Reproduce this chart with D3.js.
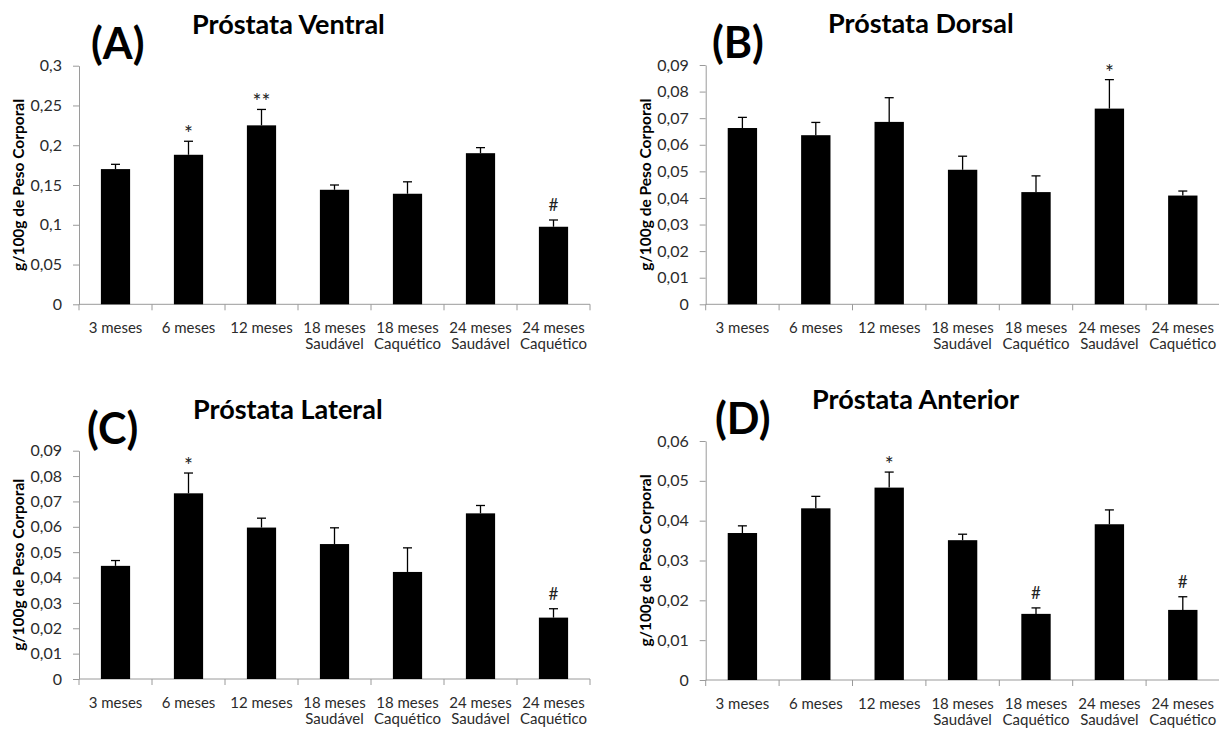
<!DOCTYPE html>
<html>
<head>
<meta charset="utf-8">
<script src="https://cdn.jsdelivr.net/npm/d3@7"></script>
<style>
  html, body { margin: 0; padding: 0; background: #fff; }
  svg { display: block; }
  text { font-family: Lato, "Open Sans", sans-serif; }
</style>
</head>
<body>
<svg id="chart" width="1219" height="730"></svg>
<script>
// Groups (two-line category labels)
const groupLine1 = ["3 meses", "6 meses", "12 meses", "18 meses", "18 meses", "24 meses", "24 meses"];
const groupLine2 = ["", "", "", "Saudável", "Caquético", "Saudável", "Caquético"];

// (A) Próstata Ventral
const ventralMean  = [0.170, 0.188, 0.225, 0.144, 0.139, 0.190, 0.0975];
const ventralErr   = [0.006, 0.017, 0.020, 0.006, 0.015, 0.007, 0.0085];
const ventralMarks = ["", "*", "**", "", "", "", "#"];
const ventralTicks = [0, 0.05, 0.1, 0.15, 0.2, 0.25, 0.3];

// (B) Próstata Dorsal
const dorsalMean  = [0.0663, 0.0636, 0.0686, 0.0506, 0.0422, 0.0736, 0.0409];
const dorsalErr   = [0.0040, 0.0048, 0.0091, 0.0051, 0.0061, 0.0109, 0.0017];
const dorsalMarks = ["", "", "", "", "", "*", ""];
const dorsalTicks = [0, 0.01, 0.02, 0.03, 0.04, 0.05, 0.06, 0.07, 0.08, 0.09];

// (C) Próstata Lateral
const lateralMean  = [0.0446, 0.0732, 0.0597, 0.0532, 0.0422, 0.0653, 0.0242];
const lateralErr   = [0.0021, 0.0080, 0.0037, 0.0064, 0.0095, 0.0031, 0.0035];
const lateralMarks = ["", "*", "", "", "", "", "#"];
const lateralTicks = [0, 0.01, 0.02, 0.03, 0.04, 0.05, 0.06, 0.07, 0.08, 0.09];

// (D) Próstata Anterior
const anteriorMean  = [0.0369, 0.0431, 0.0483, 0.0351, 0.0166, 0.0391, 0.0176];
const anteriorErr   = [0.0018, 0.0030, 0.0039, 0.0015, 0.0015, 0.0036, 0.0033];
const anteriorMarks = ["", "", "*", "", "#", "", "#"];
const anteriorTicks = [0, 0.01, 0.02, 0.03, 0.04, 0.05, 0.06];

const yTitle = "g/100g de Peso Corporal";

// Panel layout: plot box in page pixels
const panels = [
  { letter: "(A)", title: "Próstata Ventral", mean: ventralMean, err: ventralErr, marks: ventralMarks, ticks: ventralTicks,
    x0: 79, x1: 590, yTop: 65.7, yBot: 304.3, letterX: 91, titleX: 192 },
  { letter: "(B)", title: "Próstata Dorsal", mean: dorsalMean, err: dorsalErr, marks: dorsalMarks, ticks: dorsalTicks,
    x0: 705.7, x1: 1219.5, yTop: 65, yBot: 304.3, letterX: 712, titleX: 828 },
  { letter: "(C)", title: "Próstata Lateral", mean: lateralMean, err: lateralErr, marks: lateralMarks, ticks: lateralTicks,
    x0: 79, x1: 590, yTop: 450.7, yBot: 679, letterX: 87, titleX: 193 },
  { letter: "(D)", title: "Próstata Anterior", mean: anteriorMean, err: anteriorErr, marks: anteriorMarks, ticks: anteriorTicks,
    x0: 705.7, x1: 1219.5, yTop: 441, yBot: 680, letterX: 715, titleX: 812 }
];

const svg = d3.select("#chart");
const axisColor = "#9a9a9a";
const labelColor = "#2b2b2b";
const fmt = v => v === 0 ? "0" : String(+v.toFixed(3)).replace(".", ",");

panels.forEach(p => {
  const g = svg.append("g");
  const idx = d3.range(p.mean.length);

  const x = d3.scaleBand().domain(idx).range([p.x0, p.x1]).paddingInner(0.6).paddingOuter(0.3);
  const xb = d3.scaleBand().domain(idx).range([p.x0, p.x1]);
  const y = d3.scaleLinear().domain([0, d3.max(p.ticks)]).range([p.yBot, p.yTop]);

  // y axis
  const yAxis = g.append("g")
    .attr("transform", `translate(${p.x0},0)`)
    .call(d3.axisLeft(y).tickValues(p.ticks).tickFormat(fmt).tickSizeInner(6).tickSizeOuter(0).tickPadding(11));
  yAxis.select(".domain").attr("stroke", axisColor);
  yAxis.selectAll(".tick line").attr("stroke", axisColor);
  yAxis.selectAll(".tick text").attr("fill", labelColor).style("font-size", "16px").style("font-family", "Lato, sans-serif");

  // x axis: baseline and ticks at group boundaries
  g.append("line")
    .attr("x1", p.x0).attr("x2", p.x1)
    .attr("y1", y(0)).attr("y2", y(0))
    .attr("stroke", axisColor);
  g.selectAll("line.xtick").data(d3.range(p.mean.length + 1)).join("line")
    .attr("class", "xtick")
    .attr("x1", i => p.x0 + i * xb.step()).attr("x2", i => p.x0 + i * xb.step())
    .attr("y1", y(0)).attr("y2", y(0) + 6)
    .attr("stroke", axisColor);

  // category labels
  const lab = g.selectAll("text.cat").data(idx).join("text")
    .attr("class", "cat")
    .attr("text-anchor", "middle")
    .attr("fill", labelColor)
    .style("font-size", "15px");
  lab.append("tspan")
    .attr("x", i => xb(i) + xb.bandwidth() / 2)
    .attr("y", y(0) + 29)
    .text(i => groupLine1[i]);
  lab.append("tspan")
    .attr("x", i => xb(i) + xb.bandwidth() / 2)
    .attr("y", y(0) + 45)
    .text(i => groupLine2[i]);

  // bars
  g.selectAll("rect.bar").data(idx).join("rect")
    .attr("class", "bar")
    .attr("x", i => x(i))
    .attr("width", x.bandwidth())
    .attr("y", i => y(p.mean[i]))
    .attr("height", i => y(0) - y(p.mean[i]))
    .attr("fill", "#000");

  // error bars (upper only)
  const cx = i => x(i) + x.bandwidth() / 2;
  g.selectAll("line.err").data(idx).join("line")
    .attr("class", "err")
    .attr("x1", cx).attr("x2", cx)
    .attr("y1", i => y(p.mean[i])).attr("y2", i => y(p.mean[i] + p.err[i]))
    .attr("stroke", "#000").attr("stroke-width", 1.3);
  g.selectAll("line.cap").data(idx).join("line")
    .attr("class", "cap")
    .attr("x1", i => cx(i) - 4.5).attr("x2", i => cx(i) + 4.5)
    .attr("y1", i => y(p.mean[i] + p.err[i])).attr("y2", i => y(p.mean[i] + p.err[i]))
    .attr("stroke", "#000").attr("stroke-width", 1.3);

  // significance marks
  g.selectAll("text.mark").data(idx.filter(i => p.marks[i])).join("text")
    .attr("class", "mark")
    .attr("x", cx)
    .attr("y", i => y(p.mean[i] + p.err[i]) - (p.marks[i].startsWith("#") ? 9 : 0))
    .attr("text-anchor", "middle")
    .attr("fill", "#222")
    .style("font-size", i => p.marks[i].startsWith("#") ? "17px" : "21px")
    .text(i => p.marks[i]);

  // y axis title
  g.append("text")
    .attr("transform", `translate(${p.x0 - 61},${(p.yTop + p.yBot) / 2}) rotate(-90)`)
    .attr("text-anchor", "middle")
    .attr("dominant-baseline", "central")
    .attr("fill", "#000")
    .style("font-size", "15.5px")
    .style("font-weight", "bold")
    .text(yTitle);

  // panel letter and title
  g.append("text")
    .attr("x", p.letterX).attr("y", p.yTop - 7)
    .attr("fill", "#000")
    .style("font-size", "43px")
    .style("font-weight", "bold")
    .text(p.letter);
  g.append("text")
    .attr("x", p.titleX).attr("y", p.yTop - 32)
    .attr("fill", "#000")
    .style("font-size", "27px")
    .style("font-weight", "bold")
    .text(p.title);
});
</script>
</body>
</html>
